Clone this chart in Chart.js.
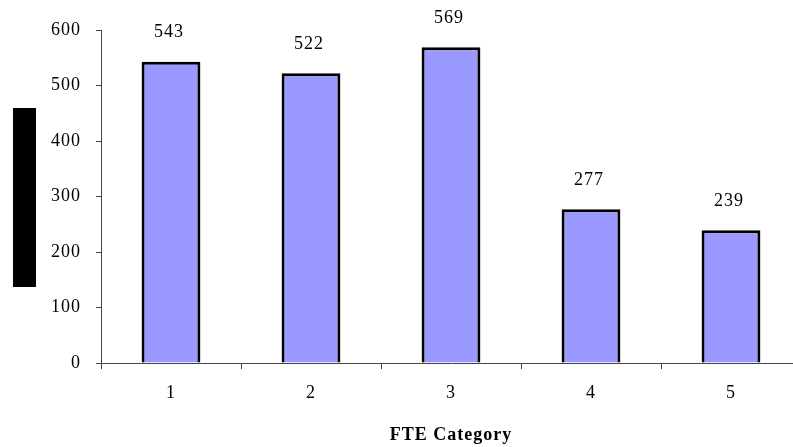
<!DOCTYPE html>
<html>
<head>
<meta charset="utf-8">
<script src="https://cdn.jsdelivr.net/npm/chart.js@4"></script>
<style>
  html, body { margin: 0; padding: 0; background: #fff; overflow: hidden; }
  #wrap { width: 793px; height: 447px; overflow: hidden; }
</style>
</head>
<body>
<div id="wrap"><canvas id="chart" width="820" height="447"></canvas></div>
<script>
// Data
const categories = ['1', '2', '3', '4', '5'];
const fteCounts = [543, 522, 569, 277, 239];
const yTicks = [0, 100, 200, 300, 400, 500, 600];

const serif = '"Liberation Serif", "Times New Roman", serif';

// slightly wider text, like the original
const textSpacing = {
    id: 'textSpacing',
    beforeDraw(chart) {
        chart.ctx.letterSpacing = '1px';
    }
};

// value labels above bars
const valueLabels = {
    id: 'valueLabels',
    afterDatasetsDraw(chart) {
        const ctx = chart.ctx;
        const meta = chart.getDatasetMeta(0);
        ctx.save();
        ctx.font = '18px ' + serif;
        ctx.fillStyle = '#000';
        ctx.textAlign = 'center';
        ctx.textBaseline = 'middle';
        meta.data.forEach((bar, i) => {
            ctx.fillText(fteCounts[i], bar.x - 2, bar.y - 29);
        });
        ctx.restore();
    }
};

// black block where the y axis title sits
const yTitleBlock = {
    id: 'yTitleBlock',
    afterDraw(chart) {
        const ctx = chart.ctx;
        ctx.save();
        ctx.fillStyle = '#000';
        ctx.fillRect(13, 108, 23, 179);
        ctx.restore();
    }
};

new Chart(document.getElementById('chart'), {
    type: 'bar',
    data: {
        labels: categories,
        datasets: [{
            data: fteCounts,
            backgroundColor: '#9999FF',
            borderColor: '#000',
            borderWidth: 3,
            barPercentage: 0.42,
            categoryPercentage: 1.0
        }]
    },
    options: {
        responsive: false,
        animation: false,
        layout: { padding: { top: 30, right: 19, left: 0, bottom: 0 } },
        plugins: { legend: { display: false }, tooltip: { enabled: false } },
        scales: {
            x: {
                grid: { display: true, drawOnChartArea: false, color: '#444', tickLength: 6, offset: true },
                border: { color: '#444', width: 1 },
                ticks: { color: '#000', font: { family: serif, size: 18 }, padding: 13 },
                title: {
                    display: true,
                    text: 'FTE Category',
                    color: '#000',
                    font: { family: serif, size: 18, weight: 'bold' },
                    padding: { top: 0, bottom: 1 }
                },
                afterFit(scale) { scale.height = 84; }
            },
            y: {
                min: 0,
                max: 600,
                afterBuildTicks(scale) { scale.ticks = yTicks.map(v => ({ value: v })); },
                grid: { display: true, drawOnChartArea: false, color: '#444', tickLength: 5 },
                border: { color: '#444', width: 1 },
                ticks: { color: '#000', font: { family: serif, size: 18 }, padding: 15 },
                afterFit(scale) { scale.width = 101; }
            }
        }
    },
    plugins: [textSpacing, valueLabels, yTitleBlock]
});
</script>
</body>
</html>
